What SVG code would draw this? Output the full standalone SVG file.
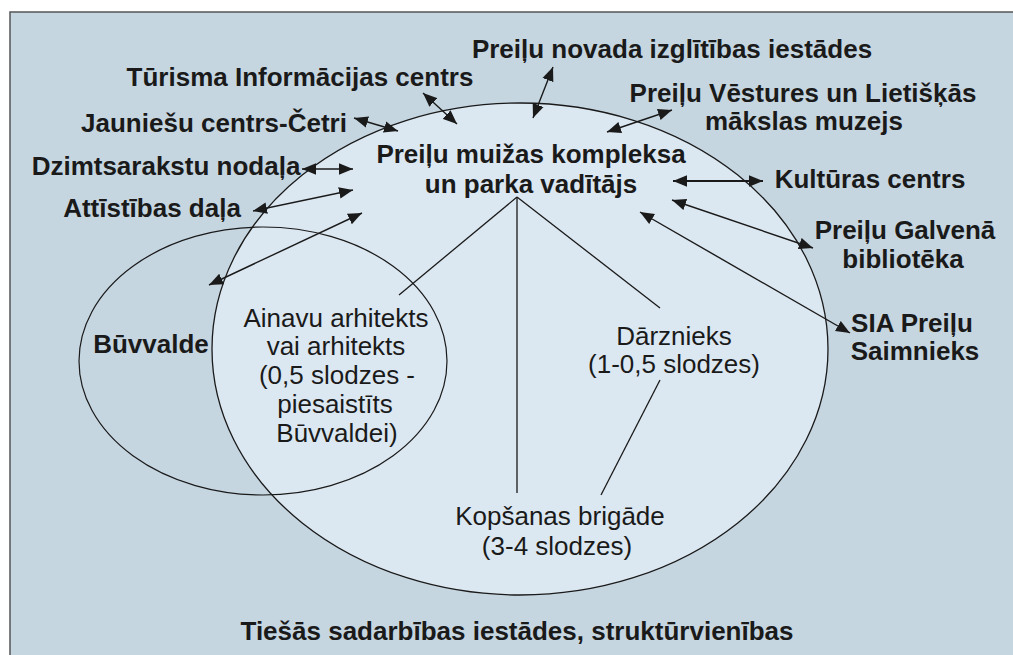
<svg xmlns="http://www.w3.org/2000/svg" width="1013" height="655" viewBox="0 0 1013 655">
<style>
.b{font-family:"Liberation Sans",Arial,sans-serif;font-weight:bold;font-size:26px;fill:#1a1a1a}
.n{font-family:"Liberation Sans",Arial,sans-serif;font-size:26px;fill:#1a1a1a}
.m{text-anchor:middle}
.a{stroke:#1a1a1a;stroke-width:1.4;fill:none;marker-start:url(#ah);marker-end:url(#ah)}
.l{stroke:#1a1a1a;stroke-width:1.3;fill:none}
</style>
<defs>
<marker id="ah" markerUnits="userSpaceOnUse" markerWidth="14" markerHeight="12" refX="12" refY="5" orient="auto-start-reverse" viewBox="0 0 12 10">
<path d="M0,0 L12,5 L0,10 z" fill="#1a1a1a"/>
</marker>
</defs>
<rect x="10" y="12" width="1012" height="652" fill="#c6d6e1" stroke="#555" stroke-width="1.5"/>
<g id="main-ellipse"><ellipse cx="520" cy="349" rx="308" ry="246" fill="#dce8f1" stroke="#1a1a1a" stroke-width="1.3"/></g>
<g id="buvvalde-ellipse"><ellipse cx="263" cy="361" rx="184" ry="134" fill="none" stroke="#1a1a1a" stroke-width="1.2"/></g>
<g id="connectors">
<line class="a" x1="423" y1="93" x2="457" y2="124"/>
<line class="a" x1="354" y1="118" x2="398" y2="131"/>
<line class="a" x1="302" y1="169" x2="353" y2="169"/>
<line class="a" x1="253" y1="211" x2="353" y2="190"/>
<line class="a" x1="209" y1="285" x2="362" y2="213"/>
<line class="a" x1="553" y1="67" x2="533" y2="118"/>
<line class="a" x1="607" y1="132" x2="672" y2="110"/>
<line class="a" x1="673" y1="181" x2="763" y2="181" style="stroke-width:2"/>
<line class="a" x1="672" y1="200" x2="813" y2="248"/>
<line class="a" x1="640" y1="212" x2="850" y2="333"/>
<line class="l" x1="517" y1="197" x2="399" y2="295"/>
<line class="l" x1="517" y1="197" x2="517" y2="493"/>
<line class="l" x1="517" y1="197" x2="660" y2="308"/>
<line class="l" x1="660" y1="380" x2="601" y2="495"/>
</g>
<g id="n-izglitibas"><text class="b m" x="672" y="58">Preiļu novada izglītības iestādes</text></g>
<g id="n-turisma"><text class="b m" x="300" y="86">Tūrisma Informācijas centrs</text></g>
<g id="n-jauniesu"><text class="b m" x="214" y="132">Jauniešu centrs-Četri</text></g>
<g id="n-dzimts"><text class="b m" x="166" y="175">Dzimtsarakstu nodaļa</text></g>
<g id="n-attistibas"><text class="b m" x="152" y="217">Attīstības daļa</text></g>
<g id="n-vaditajs"><text class="b m" x="531" y="163">Preiļu muižas kompleksa</text><text class="b m" x="531" y="193">un parka vadītājs</text></g>
<g id="n-muzejs"><text class="b m" x="803" y="102">Preiļu Vēstures un Lietišķās</text><text class="b m" x="804" y="130">mākslas muzejs</text></g>
<g id="n-kulturas"><text class="b m" x="870" y="188">Kultūras centrs</text></g>
<g id="n-biblioteka"><text class="b m" x="905" y="239">Preiļu Galvenā</text><text class="b m" x="903" y="268">bibliotēka</text></g>
<g id="n-sia"><text class="b m" x="912" y="332">SIA Preiļu</text><text class="b m" x="915" y="360">Saimnieks</text></g>
<g id="n-buvvalde"><text class="b m" x="151" y="353">Būvvalde</text></g>
<g id="n-ainavu"><text class="n m" x="336" y="327">Ainavu arhitekts</text><text class="n m" x="336" y="355">vai arhitekts</text><text class="n m" x="337" y="384">(0,5 slodzes -</text><text class="n m" x="335" y="413">piesaistīts</text><text class="n m" x="337" y="442">Būvvaldei)</text></g>
<g id="n-darznieks"><text class="n m" x="674" y="345">Dārznieks</text><text class="n m" x="674" y="373">(1-0,5 slodzes)</text></g>
<g id="n-kopsanas"><text class="n m" x="560" y="525">Kopšanas brigāde</text><text class="n m" x="557" y="555">(3-4 slodzes)</text></g>
<g id="n-title"><text class="b m" x="517" y="640">Tiešās sadarbības iestādes, struktūrvienības</text></g>
</svg>
